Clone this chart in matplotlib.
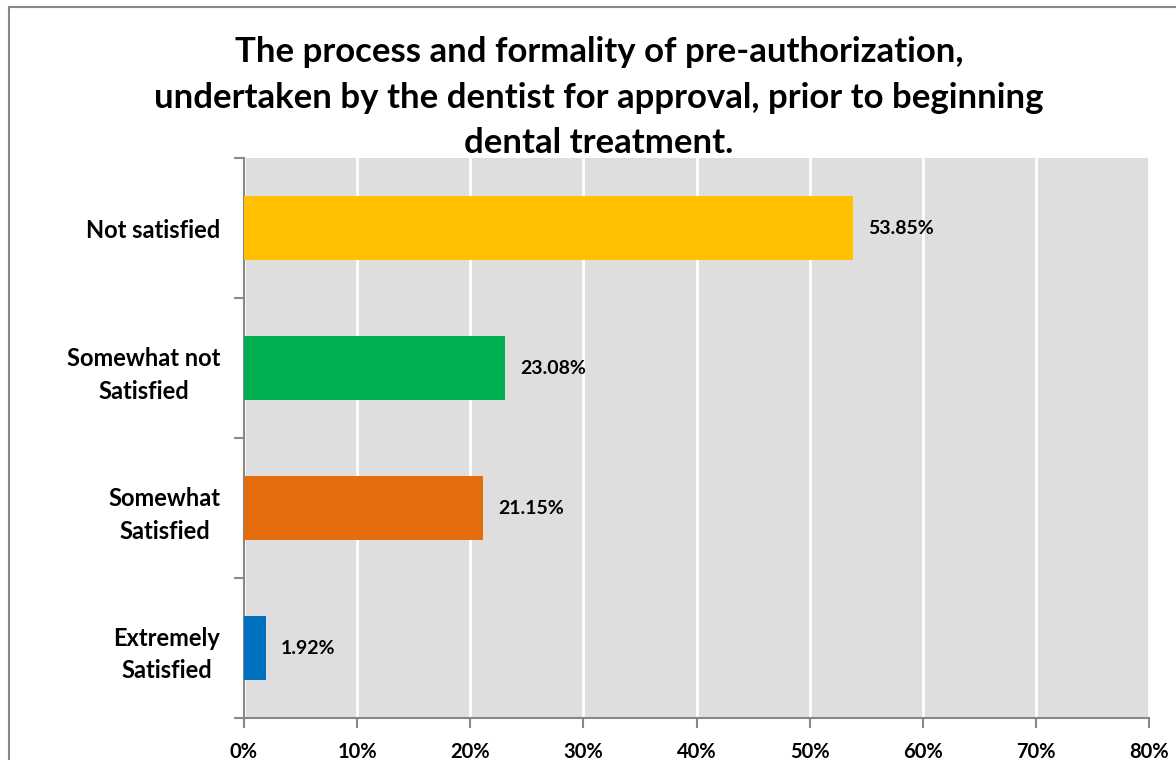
import matplotlib
matplotlib.use("Agg")
import matplotlib.pyplot as plt
from matplotlib.patches import Rectangle

categories = ["Extremely\nSatisfied", "Somewhat\nSatisfied", "Somewhat not\nSatisfied", "Not satisfied"]
values = [1.92, 21.15, 23.08, 53.85]
colors = ["#0070C0", "#E46C0A", "#00B050", "#FFC000"]
xticks = [0, 10, 20, 30, 40, 50, 60, 70, 80]
title = ("The process and formality of pre-authorization,\n"
         "undertaken by the dentist for approval, prior to beginning\n"
         "dental treatment.")

plt.rcParams['font.family'] = ['Lato', 'DejaVu Sans']
W, H = 1176, 760
fig = plt.figure(figsize=(W/100, H/100), dpi=100)
ax = fig.add_axes([244/W, 1-718/H, (1149-244)/W, (718-158)/H])
ax.set_facecolor("#DEDEDE")

ypos = list(range(len(categories)))
ax.barh(ypos, values, height=0.46, color=colors, zorder=3)
for y, v in zip(ypos, values):
    ax.text(v + 1.35, y, f"{v:.2f}%", va="center", ha="left", fontsize=14,
            fontweight="bold", color="black", zorder=4)

ax.set_xlim(0, 80)
ax.set_ylim(-0.5, len(categories) - 0.5)
ax.set_xticks(xticks)
ax.set_xticklabels([f"{t}%" for t in xticks], fontsize=14.5, fontweight="bold")
ax.xaxis.grid(True, color="white", linewidth=2, zorder=1)
ax.set_axisbelow(True)
ax.set_yticks([y - 0.5 for y in range(len(categories) + 1)])
ax.set_yticklabels([])
ax.set_yticks(ypos, minor=True)
ax.set_yticklabels(categories, minor=True, fontsize=17, fontweight="bold", ha="right")
ax.tick_params(axis="y", which="minor", length=0, pad=17)
ax.tick_params(axis="y", which="major", length=7, width=1.5, color="#888888")
ax.tick_params(axis="x", length=7, width=1.5, color="#888888", pad=10)
for lab in ax.get_yticklabels(minor=True):
    lab.set_multialignment("center")
    lab.set_linespacing(1.5)
for s in ["top", "right"]:
    ax.spines[s].set_visible(False)
for s in ["left", "bottom"]:
    ax.spines[s].set_color("#888888")
    ax.spines[s].set_linewidth(1.5)

fig.text(599/W, 1-36/H, title, ha="center", va="top", fontsize=25,
         fontweight="bold", linespacing=1.52)

fig.patches.append(Rectangle((9/W, -0.1), 1.2, 1 - 7/H + 0.1, transform=fig.transFigure,
                             fill=False, edgecolor="#888888", linewidth=1.5))

fig.savefig("out.png", dpi=100)
